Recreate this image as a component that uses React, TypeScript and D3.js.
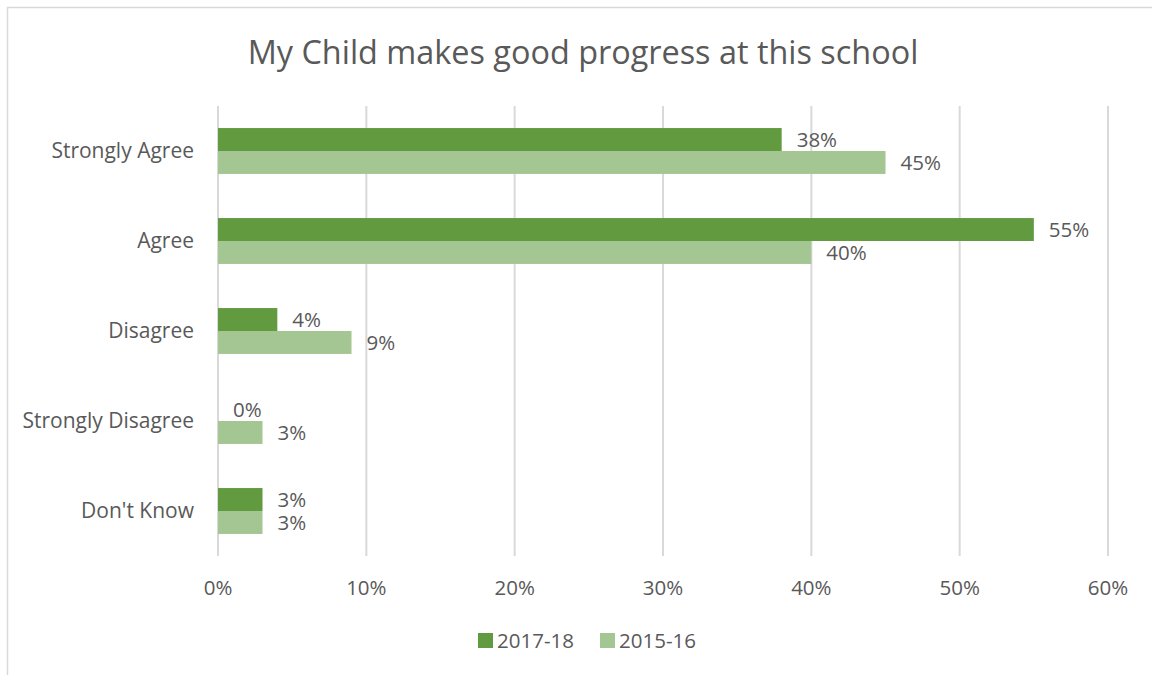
import * as d3 from 'd3';
import React from 'react';

const categories = ['Strongly Agree', 'Agree', 'Disagree', 'Strongly Disagree', "Don't Know"];
const seriesNames = ['2017-18', '2015-16'];
const values2017 = [38, 55, 4, 0, 3];
const values2015 = [45, 40, 9, 3, 3];
const xTicks = [0, 10, 20, 30, 40, 50, 60];
const colors = ['#629a3f', '#a4c693'];

const W = 1152;
const H = 675;
const font = "'Open Sans', 'Noto Sans', sans-serif";
const textColor = '#595959';

const App: React.FC = () => {
  const x = d3.scaleLinear().domain([0, 60]).range([218, 1108]);
  const y = d3.scaleBand<string>().domain(categories).range([106, 556]).paddingInner(0.49).paddingOuter(0.245);
  const inner = d3.scaleBand<string>().domain(seriesNames).range([0, y.bandwidth()]);
  const series = [values2017, values2015];

  return (
    <div style={{ position: 'absolute', left: 0, top: 0 }}>
      <svg width={W} height={H} style={{ display: 'block' }}>
        <rect x={0} y={0} width={W} height={H} fill='white' />
        <rect x={7.5} y={7.5} width={W + 10} height={H + 10} fill='none' stroke='#d9d9d9' strokeWidth={1.5} />
        <text x={583} y={64} textAnchor='middle' fontFamily={font} fontSize={32.4} fill={textColor}>
          My Child makes good progress at this school
        </text>
        {xTicks.map((t) => (
          <g key={t}>
            <line x1={x(t)} x2={x(t)} y1={106} y2={556} stroke='#d9d9d9' strokeWidth={2} />
            <text x={x(t)} y={595} textAnchor='middle' fontFamily={font} fontSize={20.5} fill={textColor}>
              {t}%
            </text>
          </g>
        ))}
        {categories.map((c, i) => (
          <g key={c}>
            <text
              x={194}
              y={(y(c) as number) + y.bandwidth() / 2}
              dy='0.35em'
              textAnchor='end'
              fontFamily={font}
              fontSize={21}
              fill={textColor}
            >
              {c}
            </text>
            {series.map((vals, s) => {
              const yy = (y(c) as number) + (inner(seriesNames[s]) as number);
              return (
                <g key={s}>
                  <rect x={x(0)} y={yy} width={x(vals[i]) - x(0)} height={inner.bandwidth()} fill={colors[s]} />
                  <text
                    x={x(vals[i]) + 15}
                    y={yy + inner.bandwidth() / 2}
                    dy='0.35em'
                    fontFamily={font}
                    fontSize={20.5}
                    fill={textColor}
                  >
                    {vals[i]}%
                  </text>
                </g>
              );
            })}
          </g>
        ))}
        {seriesNames.map((n, s) => {
          const lx = s === 0 ? 478 : 600;
          return (
            <g key={n}>
              <rect x={lx} y={633} width={15} height={15} fill={colors[s]} />
              <text x={lx + 19} y={641} dy='0.35em' fontFamily={font} fontSize={20.5} fill={textColor}>
                {n}
              </text>
            </g>
          );
        })}
      </svg>
    </div>
  );
};

export default App;
